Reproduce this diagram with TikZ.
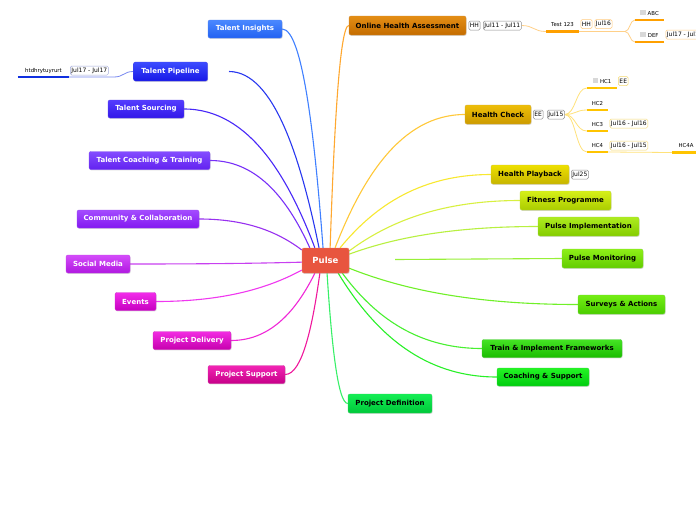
\documentclass[tikz,border=0pt]{standalone}
\usepackage{fontspec}
\setmainfont{DejaVu Sans}
\usetikzlibrary{calc,shadows,backgrounds}
% node fills (top / bottom)
\definecolor{pulseF}{HTML}{E8553F}\definecolor{pulseD}{HTML}{F07A66}
\definecolor{ohaT}{HTML}{E48E14}\definecolor{ohaB}{HTML}{C46C00}
\definecolor{hcT}{HTML}{EEBE08}\definecolor{hcB}{HTML}{CC9A00}
\definecolor{hpT}{HTML}{EEE000}\definecolor{hpB}{HTML}{C6B400}
\definecolor{fpT}{HTML}{D6F018}\definecolor{fpB}{HTML}{AACC00}
\definecolor{piT}{HTML}{AEEC20}\definecolor{piB}{HTML}{84CC00}
\definecolor{pmT}{HTML}{8EF018}\definecolor{pmB}{HTML}{62CC00}
\definecolor{saT}{HTML}{74EE14}\definecolor{saB}{HTML}{4ACC00}
\definecolor{tifT}{HTML}{44E424}\definecolor{tifB}{HTML}{1ABC00}
\definecolor{csT}{HTML}{24F424}\definecolor{csB}{HTML}{00CC10}
\definecolor{pdT}{HTML}{14EE54}\definecolor{pdB}{HTML}{00C83A}
\definecolor{tiT}{HTML}{4A88FF}\definecolor{tiB}{HTML}{2262F2}
\definecolor{tpT}{HTML}{3C4CFF}\definecolor{tpB}{HTML}{1818E6}
\definecolor{tsT}{HTML}{543CFF}\definecolor{tsB}{HTML}{3218E8}
\definecolor{tctT}{HTML}{844CFF}\definecolor{tctB}{HTML}{6222F0}
\definecolor{ccT}{HTML}{A44CFF}\definecolor{ccB}{HTML}{8218F0}
\definecolor{smT}{HTML}{D44CFA}\definecolor{smB}{HTML}{B018E0}
\definecolor{evT}{HTML}{F22CEA}\definecolor{evB}{HTML}{C600C0}
\definecolor{pdlT}{HTML}{F22CE2}\definecolor{pdlB}{HTML}{C600AE}
\definecolor{psT}{HTML}{F224B4}\definecolor{psB}{HTML}{C60088}
% connector colours
\definecolor{cTI}{HTML}{4080FF}\definecolor{cTP}{HTML}{2838F0}
\definecolor{cTS}{HTML}{4828F8}\definecolor{cTCT}{HTML}{7830F8}
\definecolor{cCC}{HTML}{9830F0}\definecolor{cSM}{HTML}{C840F0}
\definecolor{cEV}{HTML}{F038F0}\definecolor{cPDL}{HTML}{F028D8}
\definecolor{cPS}{HTML}{F0189C}\definecolor{cPD}{HTML}{38F068}
\definecolor{cOHA}{HTML}{FFA830}\definecolor{cHC}{HTML}{FFC838}
\definecolor{cHP}{HTML}{F8E830}\definecolor{cFP}{HTML}{D8F040}
\definecolor{cPI}{HTML}{B8F040}\definecolor{cPM}{HTML}{98F038}
\definecolor{cSA}{HTML}{70F028}\definecolor{cTIF}{HTML}{48F030}
\definecolor{cCS}{HTML}{28F028}
% sub-branch colours
\definecolor{scO}{HTML}{FFD088}\definecolor{scY}{HTML}{FFE27A}\definecolor{scB}{HTML}{7888F0}
\definecolor{ulO}{HTML}{FFA000}\definecolor{ulY}{HTML}{FFC400}\definecolor{ulB}{HTML}{1030E0}
\definecolor{tagG}{HTML}{909090}\definecolor{tagO}{HTML}{FFCC80}\definecolor{tagY}{HTML}{F4D870}
\definecolor{tagB}{HTML}{A0A8D8}\definecolor{cbC}{HTML}{D8D8D8}
\newcommand\cbx{\textcolor{cbC}{\rule{5.5pt}{5.5pt}}}
\tikzset{
  mm/.style={to path={let \p1=(\tikztostart), \p2=(\tikztotarget) in
    .. controls ({\x1+0.2*(\x2-\x1)},{\y1+0.5*(\y2-\y1)}) and ({\x2-0.5*(\x2-\x1)},{\y2}) .. (\tikztotarget)}},
  ss/.style={to path={let \p1=(\tikztostart), \p2=(\tikztotarget) in
    .. controls ({0.5*\x1+0.5*\x2},{\y1}) and ({0.5*\x1+0.5*\x2},{\y2}) .. (\tikztotarget)}},
  topic/.style 2 args={rectangle, rounded corners=2pt, top color=#1, bottom color=#2,
    draw=#2!80!white, line width=0.4pt, font=\fontsize{7}{8}\selectfont\bfseries, inner sep=0pt,
    drop shadow={opacity=0.28, shadow xshift=0.6pt, shadow yshift=-0.9pt}},
  sz/.style 2 args={minimum width=#1, minimum height=#2},
  lt/.style={text=white},
  tag/.style={draw=#1, fill=white, rounded corners=1.5pt, font=\fontsize{6}{7}\selectfont,
    inner xsep=1.2pt, inner ysep=0pt, minimum height=9pt, line width=0.5pt, anchor=west},
  sub/.style={font=\fontsize{5.4}{6}\selectfont, minimum width=#1, inner xsep=0pt,
    inner ysep=4.5pt, text depth=0pt, anchor=south},
  cn/.style={draw=#1, line width=1.1pt},
  sc/.style={draw=#1, line width=0.8pt},
  ul/.style={draw=#1, line width=2.6pt}
}
\begin{document}
\begin{tikzpicture}[x=1pt,y=-1pt]
\useasboundingbox (0,0) rectangle (696,520);
\clip (0,0) rectangle (696,520);

% central topic
\node[topic={pulseF}{pulseF}, draw=pulseD, sz={47pt}{25pt}, lt, font=\fontsize{8.5}{10}\selectfont\bfseries] (pulse) at (325.5,260.5) {Pulse};

% right side topics
\node[topic={ohaT}{ohaB}, sz={117pt}{19pt}] (oha) at (407.5,25.5) {Online Health Assessment};
\node[topic={hcT}{hcB}, sz={66pt}{19pt}] (hc) at (498,114.5) {Health Check};
\node[topic={hpT}{hpB}, sz={78pt}{19pt}] (hp) at (530,174.5) {Health Playback};
\node[topic={fpT}{fpB}, sz={91pt}{19pt}] (fp) at (565.5,200.5) {Fitness Programme};
\node[topic={piT}{piB}, sz={101pt}{19pt}] (pi) at (588.5,226.5) {Pulse Implementation};
\node[topic={pmT}{pmB}, sz={81pt}{19pt}] (pm) at (602.5,258.5) {Pulse Monitoring};
\node[topic={saT}{saB}, sz={87pt}{19pt}] (sa) at (621.5,304.5) {Surveys \& Actions};
\node[topic={tifT}{tifB}, sz={140pt}{18pt}] (tif) at (552,348.5) {Train \& Implement Frameworks};
\node[topic={csT}{csB}, sz={92pt}{18pt}] (cs) at (543,377) {Coaching \& Support};
\node[topic={pdT}{pdB}, sz={84pt}{19pt}] (pd) at (390,403.5) {Project Definition};

% left side topics
\node[topic={tiT}{tiB}, sz={74pt}{18pt}, lt] (ti) at (245,29) {Talent Insights};
\node[topic={tpT}{tpB}, sz={74pt}{19pt}, lt] (tp) at (170.5,71.5) {Talent Pipeline};
\node[topic={tsT}{tsB}, sz={76pt}{18pt}, lt] (ts) at (146,109) {Talent Sourcing};
\node[topic={tctT}{tctB}, sz={121pt}{18pt}, lt] (tct) at (149.5,160.5) {Talent Coaching \& Training};
\node[topic={ccT}{ccB}, sz={122pt}{18pt}, lt] (cc) at (138,219) {Community \& Collaboration};
\node[topic={smT}{smB}, sz={64pt}{18pt}, lt] (sm) at (98,264) {Social Media};
\node[topic={evT}{evB}, sz={41pt}{18pt}, lt] (ev) at (135.5,301.5) {Events};
\node[topic={pdlT}{pdlB}, sz={78pt}{18pt}, lt] (pdl) at (192,340.5) {Project Delivery};
\node[topic={psT}{psB}, sz={77pt}{18pt}, lt] (ps) at (246.5,374.5) {Project Support};

% Online Health Assessment subtree
\node[tag=tagG] (ohaHH) at (468.5,25.5) {HH};
\node[tag=tagG] (ohaJul) at (483,25.5) {Jul11 - Jul11};
\node[sub=33pt] (t123) at (562.5,31.5) {Test 123};
\node[tag=tagO] (t123HH) at (580.5,24) {HH};
\node[tag=tagO] (t123Jul) at (594.5,24) {Jul16};
\coordinate (bT) at (625,31.5);
\node[sub=29pt] (abc) at (649.5,20) {\cbx\hspace{2pt}ABC};
\node[sub=29pt] (def) at (649.5,42) {\cbx\hspace{2pt}DEF};
\node[tag=tagO] (defJul) at (665.5,34.5) {Jul17 - Jul17};

% Health Check subtree
\node[tag=tagG] (hcEE) at (533,114.5) {EE};
\node[tag=tagG] (hcJul) at (547,114.5) {Jul15};
\node[sub=30pt] (hc1) at (602,88) {\cbx\hspace{2pt}HC1};
\node[tag=tagY] (hc1EE) at (618,81) {EE};
\node[sub=21pt] (hc2) at (597.5,110) {HC2};
\node[sub=21pt] (hc3) at (597.5,131) {HC3};
\node[tag=tagY] (hc3Jul) at (609.5,123.5) {Jul16 - Jul16};
\node[sub=21pt] (hc4) at (597.5,152) {HC4};
\node[tag=tagY] (hc4Jul) at (609.5,145.5) {Jul16 - Jul15};
\node[sub=28pt] (hc4a) at (686,152.5) {HC4A};

% Health Playback tag
\node[tag=tagG] (hpJul) at (571,174.5) {Jul25};

% Talent Pipeline subtree
\node[tag=tagB] (tpJul) at (70,70.5) {Jul17 - Jul17};
\node[sub=51pt] (htd) at (43.5,77) {htdhrytuyrurt};
\coordinate (cTPb) at (114,77);
\coordinate (tpGap) at (229,71.5);
\coordinate (pmGap) at (395,259.5);

% underlines
\draw[ul=ulO] (t123.south west) -- (t123.south east);
\draw[ul=ulO] (abc.south west) -- (abc.south east);
\draw[ul=ulO] (def.south west) -- (def.south east);
\draw[ul=ulY] (hc1.south west) -- (hc1.south east);
\draw[ul=ulY] (hc2.south west) -- (hc2.south east);
\draw[ul=ulY] (hc3.south west) -- (hc3.south east);
\draw[ul=ulY] (hc4.south west) -- (hc4.south east);
\draw[ul=ulY] (hc4a.south west) -- (hc4a.south east);
\draw[ul=ulB] (htd.south west) -- (htd.south east);

\begin{scope}[on background layer]
\fill[white] (0,0) rectangle (696,520);
% main connectors, right
\draw[cn=cOHA] (pulse.70) to[mm] (oha.west);
\draw[cn=cHC] (pulse.53) to[mm] (hc.west);
\draw[cn=cHP] (pulse.41) to[mm] (hp.west);
\draw[cn=cFP] (pulse.22) to[mm] (fp.west);
\draw[cn=cPI] (pulse.15) to[mm] (pi.west);
\draw[cn=cPM] (pmGap) -- (pm.west);
\draw[cn=cSA] (pulse.-18) to[mm] (sa.west);
\draw[cn=cTIF] (pulse.-37) to[mm] (tif.west);
\draw[cn=cCS] (pulse.-45) to[mm] (cs.west);
\draw[cn=cPD] (pulse.-83) to[mm] (pd.west);
% main connectors, left
\draw[cn=cTI] (pulse.101) to[mm] (ti.east);
\draw[cn=cTP] (pulse.117) to[mm] (tpGap);
\draw[cn=cTS] (pulse.130) to[mm] (ts.east);
\draw[cn=cTCT] (pulse.141) to[mm] (tct.east);
\draw[cn=cCC] (pulse.156) to[mm] (cc.east);
\draw[cn=cSM] (pulse.184) to[mm] (sm.east);
\draw[cn=cEV] (pulse.202) to[mm] (ev.east);
\draw[cn=cPDL] (pulse.230) to[mm] (pdl.east);
\draw[cn=cPS] (pulse.246) to[mm] (ps.east);
% sub-branch connectors
\draw[sc=scO] (ohaJul.east) to[ss] (t123.south west);
\draw[sc=scO] (t123.south east) -- (bT) to[ss] (abc.south west);
\draw[sc=scO] (bT) to[ss] (def.south west);
\draw[sc=scY] (hcJul.east) to[ss] (hc1.south west);
\draw[sc=scY] (hcJul.east) to[ss] (hc2.south west);
\draw[sc=scY] (hcJul.east) to[ss] (hc3.south west);
\draw[sc=scY] (hcJul.east) to[ss] (hc4.south west);
\draw[sc=scY] (hc4.south east) -- (hc4a.south west);
\draw[sc=scB] (tp.west) to[ss] (cTPb) -- (htd.south east);
\end{scope}
\end{tikzpicture}
\end{document}
